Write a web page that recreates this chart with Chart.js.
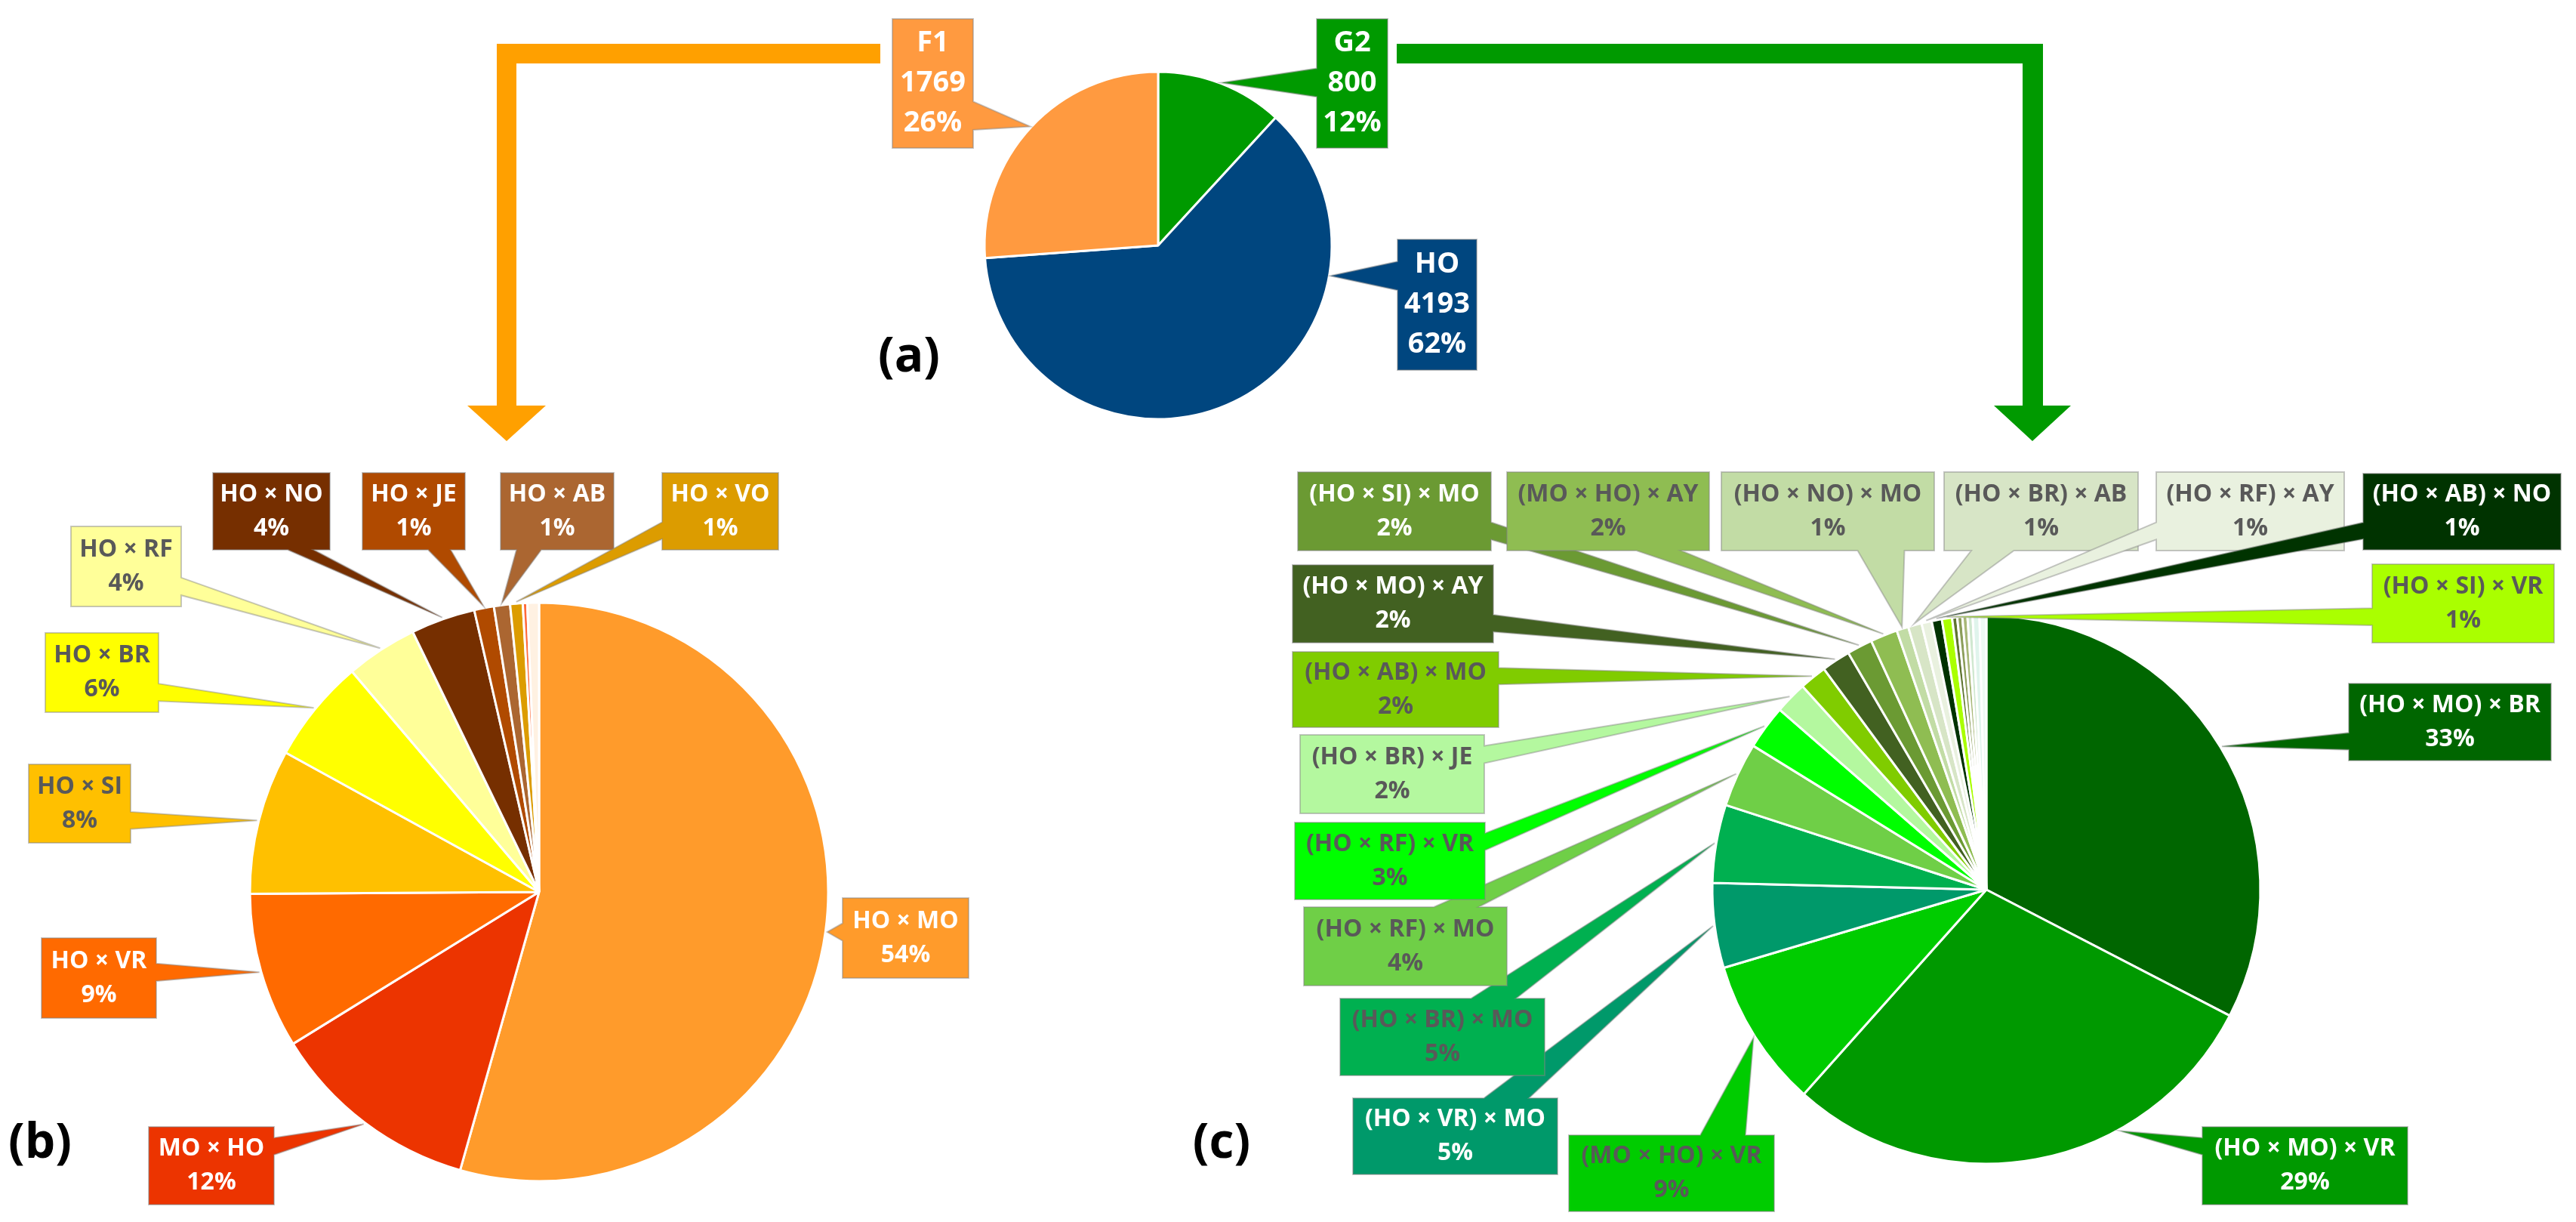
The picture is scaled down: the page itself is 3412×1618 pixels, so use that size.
<!DOCTYPE html>
<html>
<head>
<meta charset="utf-8">
<script src="https://cdn.jsdelivr.net/npm/chart.js@4.4.0/dist/chart.umd.min.js"></script>
<style>
html, body { margin: 0; padding: 0; background: #ffffff; }
#wrap { position: relative; width: 3412px; height: 1618px; }
#wrap canvas { position: absolute; left: 0; top: 0; }
</style>
</head>
<body>
<div id="wrap">
<canvas id="chart-a" width="3412" height="1618"></canvas>
<canvas id="chart-b" width="3412" height="1618"></canvas>
<canvas id="chart-c" width="3412" height="1618"></canvas>
</div>
<script>
var ANCHO = 3412
var ALTO = 1618

// (a) generaciones
var etiquetas_a = ["G2", "HO", "F1"]
var valores_a = [800, 4193, 1769]

// (b) cruces F1 (%)
var etiquetas_b = ["HO × MO", "MO × HO", "HO × VR", "HO × SI", "HO × BR", "HO × RF",
                   "HO × NO", "HO × JE", "HO × AB", "HO × VO", "", ""]
var valores_b = [54.4, 11.8, 8.7, 8.1, 5.8, 4.0, 3.6, 1.1, 0.9, 0.7, 0.25, 0.65]

// (c) cruces G2 (%)
var etiquetas_c = ["(HO × MO) × BR", "(HO × MO) × VR", "(MO × HO) × VR", "(HO × VR) × MO",
                   "(HO × BR) × MO", "(HO × RF) × MO", "(HO × RF) × VR", "(HO × BR) × JE",
                   "(HO × AB) × MO", "(HO × MO) × AY", "(HO × SI) × MO", "(MO × HO) × AY",
                   "(HO × NO) × MO", "(HO × BR) × AB", "(HO × RF) × AY", "(HO × AB) × NO",
                   "(HO × SI) × VR", "", "", "", "", "", ""]
var valores_c = [32.6, 29.0, 8.8, 5.0, 4.6, 3.8, 2.6, 1.9, 1.6, 1.7, 1.5, 1.6,
                 0.7, 0.8, 0.6, 0.6, 0.6, 0.3, 0.3, 0.3, 0.3, 0.4, 0.4]

var COLORES_A = ["#009a00", "#00467f", "#ff9a40"]
var COLORES_B = ["#ff9b2b", "#ec3400", "#ff6a00", "#ffc000", "#ffff00", "#ffff99",
                 "#762f00", "#b04a00", "#ab6631", "#dc9c00", "#ff6a3a", "#fff1e2"]
var COLORES_C = ["#006600", "#009900", "#00cc00", "#00996a", "#00b050", "#6fcf47",
                 "#00ff00", "#b4f89f", "#80cc00", "#426121", "#6b9a33", "#8fbd52",
                 "#c2dca5", "#d7e5c6", "#e9f1df", "#003300", "#aaff00",
                 "#5f7530", "#8c9e5a", "#a8b878", "#d0e8d0", "#e0f4ec", "#eefaf4"]

var BLANCO = "#ffffff"
var GRIS = "#595959"

// cajas de etiquetas: x, y, ancho, alto, color de texto (ang = angulo opcional del puntero)
var cajas_a = [
    {x: 1744, y: 25, w: 94, h: 171, t: BLANCO},
    {x: 1851, y: 317, w: 105, h: 173, t: BLANCO, ang: 100},
    {x: 1182, y: 25, w: 107, h: 171, t: BLANCO},
]
var cajas_b = [
    {x: 1116, y: 1189, w: 167, h: 106, t: BLANCO},
    {x: 197, y: 1492, w: 166, h: 103, t: BLANCO},
    {x: 55, y: 1242, w: 152, h: 106, t: BLANCO},
    {x: 38, y: 1012, w: 135, h: 104, t: GRIS},
    {x: 60, y: 838, w: 150, h: 105, t: GRIS},
    {x: 94, y: 697, w: 146, h: 106, t: GRIS},
    {x: 282, y: 626, w: 155, h: 102, t: BLANCO},
    {x: 480, y: 626, w: 136, h: 102, t: BLANCO},
    {x: 663, y: 626, w: 150, h: 102, t: BLANCO},
    {x: 877, y: 626, w: 154, h: 102, t: BLANCO},
]
var cajas_c = [
    {x: 3111, y: 905, w: 268, h: 102, t: BLANCO},
    {x: 2917, y: 1492, w: 272, h: 103, t: BLANCO, ang: 151},
    {x: 2078, y: 1503, w: 272, h: 101, t: GRIS},
    {x: 1792, y: 1454, w: 271, h: 101, t: BLANCO},
    {x: 1775, y: 1322, w: 271, h: 102, t: GRIS},
    {x: 1727, y: 1201, w: 269, h: 104, t: GRIS},
    {x: 1715, y: 1089, w: 252, h: 102, t: GRIS},
    {x: 1722, y: 973, w: 244, h: 104, t: GRIS},
    {x: 1712, y: 863, w: 273, h: 100, t: GRIS},
    {x: 1712, y: 748, w: 266, h: 103, t: BLANCO},
    {x: 1719, y: 625, w: 256, h: 104, t: BLANCO},
    {x: 1996, y: 625, w: 268, h: 104, t: GRIS},
    {x: 2280, y: 625, w: 282, h: 104, t: GRIS},
    {x: 2575, y: 625, w: 257, h: 104, t: GRIS},
    {x: 2856, y: 625, w: 249, h: 104, t: GRIS},
    {x: 3130, y: 627, w: 262, h: 101, t: BLANCO},
    {x: 3142, y: 747, w: 241, h: 104, t: GRIS},
]

var FUENTE = "'Open Sans', 'DejaVu Sans', sans-serif"

function dibujarCallout(ctx, c, tip, relleno){
    var x0 = c.x, y0 = c.y, x1 = c.x + c.w, y1 = c.y + c.h
    var cx = (x0 + x1) / 2, cy = (y0 + y1) / 2
    var nx = (tip.x - cx) / (c.w / 2), ny = (tip.y - cy) / (c.h / 2)
    var lado = null
    if (Math.abs(nx) > 1 || Math.abs(ny) > 1){
        if (Math.abs(ny) >= 0.9 * Math.abs(nx)) lado = ny > 0 ? "bottom" : "top"
        else lado = nx > 0 ? "right" : "left"
    }
    var horiz = (lado == "top" || lado == "bottom")
    var largo = horiz ? c.w : c.h
    var medio = largo * 0.11
    var lo = (horiz ? x0 : y0) + largo * 0.25
    var hi = (horiz ? x1 : y1) - largo * 0.25
    var m = Math.min(Math.max(horiz ? tip.x : tip.y, lo), hi)

    ctx.beginPath()
    ctx.moveTo(x0, y0)
    if (lado == "top"){ ctx.lineTo(m - medio, y0); ctx.lineTo(tip.x, tip.y); ctx.lineTo(m + medio, y0) }
    ctx.lineTo(x1, y0)
    if (lado == "right"){ ctx.lineTo(x1, m - medio); ctx.lineTo(tip.x, tip.y); ctx.lineTo(x1, m + medio) }
    ctx.lineTo(x1, y1)
    if (lado == "bottom"){ ctx.lineTo(m + medio, y1); ctx.lineTo(tip.x, tip.y); ctx.lineTo(m - medio, y1) }
    ctx.lineTo(x0, y1)
    if (lado == "left"){ ctx.lineTo(x0, m + medio); ctx.lineTo(tip.x, tip.y); ctx.lineTo(x0, m - medio) }
    ctx.closePath()
    ctx.fillStyle = relleno
    ctx.fill()
    ctx.strokeStyle = "rgba(130,130,130,0.45)"
    ctx.lineWidth = 2
    ctx.stroke()
}

function pluginEtiquetas(cajas, conValor, tamFuente, interlinea){
    return {
        id: "etiquetas",
        afterDraw: function(chart){
            var ctx = chart.ctx
            var meta = chart.getDatasetMeta(0)
            var ds = chart.data.datasets[0]
            var total = ds.data.reduce(function(a, b){ return a + b }, 0)
            ctx.save()
            meta.data.forEach(function(arco, i){
                var caja = cajas[i]
                if (!caja) return
                var ang = (caja.ang !== undefined) ? (caja.ang - 90) * Math.PI / 180
                                                   : (arco.startAngle + arco.endAngle) / 2
                var r = arco.outerRadius * 1.006
                var tip = {x: arco.x + Math.cos(ang) * r, y: arco.y + Math.sin(ang) * r}
                dibujarCallout(ctx, caja, tip, ds.backgroundColor[i])

                var lineas = [chart.data.labels[i]]
                if (conValor) lineas.push(String(ds.data[i]))
                lineas.push(Math.round(ds.data[i] / total * 100) + "%")
                ctx.fillStyle = caja.t
                ctx.font = "bold " + tamFuente + "px " + FUENTE
                ctx.textAlign = "center"
                ctx.textBaseline = "middle"
                var y0 = caja.y + caja.h / 2 - (lineas.length - 1) * interlinea / 2
                lineas.forEach(function(l, k){
                    ctx.fillText(l, caja.x + caja.w / 2, y0 + k * interlinea, caja.w - 10)
                })
            })
            ctx.restore()
        }
    }
}

// flechas y letras de panel
var pluginDecoracion = {
    id: "decoracion",
    afterDraw: function(chart){
        var ctx = chart.ctx
        ctx.save()
        function poligono(pts, color){
            ctx.beginPath()
            ctx.moveTo(pts[0][0], pts[0][1])
            for (var i = 1; i < pts.length; i++) ctx.lineTo(pts[i][0], pts[i][1])
            ctx.closePath()
            ctx.fillStyle = color
            ctx.fill()
        }
        poligono([[1166, 58], [658, 58], [658, 537], [619, 537], [671, 584], [723, 537],
                  [684, 537], [684, 84], [1166, 84]], "#ffa000")
        poligono([[1850, 58], [2706, 58], [2706, 537], [2743, 537], [2692, 584], [2641, 537],
                  [2679, 537], [2679, 84], [1850, 84]], "#009a00")

        ctx.fillStyle = "#000000"
        ctx.font = "bold 64px " + FUENTE
        ctx.textAlign = "center"
        ctx.textBaseline = "middle"
        ctx.fillText("(a)", 1204, 474)
        ctx.fillText("(b)", 53, 1515)
        ctx.fillText("(c)", 1618, 1515)
        ctx.restore()
    }
}

function crearPie(id, etiquetas, valores, colores, centro, radio, plugins){
    var bw = 3
    var lado = radio * 2 + bw
    return new Chart(document.getElementById(id), {
        type: "pie",
        data: {
            labels: etiquetas,
            datasets: [{
                data: valores,
                backgroundColor: colores,
                borderColor: "#ffffff",
                borderWidth: bw,
                hoverOffset: 0,
                offset: 0,
            }],
        },
        options: {
            responsive: false,
            animation: false,
            events: [],
            layout: {
                padding: {
                    left: centro[0] - lado / 2,
                    top: centro[1] - lado / 2,
                    right: ANCHO - centro[0] - lado / 2,
                    bottom: ALTO - centro[1] - lado / 2,
                },
            },
            plugins: {
                legend: { display: false },
                tooltip: { enabled: false },
                title: { display: false },
            },
        },
        plugins: plugins,
    })
}

crearPie("chart-a", etiquetas_a, valores_a, COLORES_A, [1534, 325], 230,
         [pluginDecoracion, pluginEtiquetas(cajas_a, true, 38, 53)])
crearPie("chart-b", etiquetas_b, valores_b, COLORES_B, [714, 1181], 383,
         [pluginEtiquetas(cajas_b, false, 32, 45)])
crearPie("chart-c", etiquetas_c, valores_c, COLORES_C, [2631, 1178], 363,
         [pluginEtiquetas(cajas_c, false, 32, 45)])
</script>
</body>
</html>
